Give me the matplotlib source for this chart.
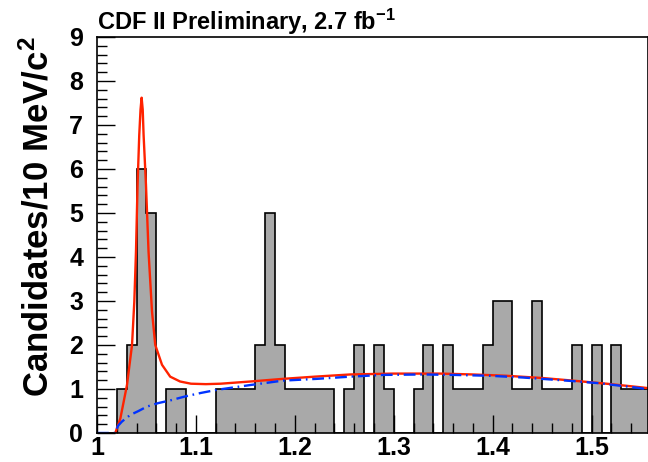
import matplotlib
matplotlib.use('Agg')
import matplotlib.pyplot as plt
import numpy as np
from matplotlib.ticker import MultipleLocator, FuncFormatter

# histogram: 10 MeV bins starting at 1.00 GeV
bin_low = 1.00
bin_width = 0.01
counts = [0, 0, 1, 2, 6, 5, 0, 1, 1, 0,
          0, 0, 1, 1, 1, 1, 2, 5, 2, 1,
          1, 1, 1, 1, 0, 1, 2, 0, 2, 1,
          0, 0, 1, 2, 0, 2, 1, 1, 1, 2,
          3, 3, 1, 1, 3, 1, 1, 1, 2, 0,
          2, 0, 2, 1, 1, 1]

# total fit (red)
fit_x = [1.0185, 1.0236, 1.0303, 1.0354, 1.0377, 1.0394, 1.041, 1.0427, 1.0440,
         1.0451, 1.0462, 1.0471, 1.0495, 1.0521, 1.0556, 1.0589, 1.0657, 1.074,
         1.084, 1.095, 1.11, 1.125, 1.155, 1.188, 1.22, 1.256, 1.30, 1.347,
         1.38, 1.414, 1.45, 1.481, 1.515, 1.549, 1.557]
fit_y = [0.0, 0.33, 1.09, 2.0, 2.98, 4.12, 5.64, 6.77, 7.35,
         7.62, 7.35, 6.77, 5.64, 4.12, 2.76, 2.0, 1.55, 1.28,
         1.17, 1.12, 1.11, 1.12, 1.17, 1.23, 1.28, 1.33, 1.35, 1.35,
         1.33, 1.30, 1.25, 1.19, 1.12, 1.04, 1.02]

# background (blue dash-dot)
bkg_x = [1.0, 1.0185, 1.020, 1.0215, 1.0252, 1.0336, 1.042, 1.0505, 1.062, 1.074,
         1.089, 1.105, 1.121, 1.155, 1.188, 1.222, 1.256, 1.29, 1.33, 1.36,
         1.397, 1.431, 1.475, 1.508, 1.549, 1.557]
bkg_y = [0.0, 0.0, 0.10, 0.17, 0.26, 0.41, 0.50, 0.60, 0.68, 0.74,
         0.83, 0.91, 0.98, 1.09, 1.19, 1.23, 1.28, 1.32, 1.33, 1.32,
         1.30, 1.26, 1.19, 1.13, 1.02, 0.99]

plt.rcParams['font.family'] = ['Liberation Sans', 'DejaVu Sans']
plt.rcParams['font.weight'] = 'bold'
plt.rcParams['mathtext.fontset'] = 'custom'
plt.rcParams['mathtext.rm'] = 'Liberation Sans:bold'
plt.rcParams['mathtext.bf'] = 'Liberation Sans:bold'
plt.rcParams['mathtext.it'] = 'Liberation Sans:bold'

fig = plt.figure(figsize=(6.48, 4.62), dpi=100)
ax = fig.add_axes([0.1497, 0.0628, 0.8503, 0.8572])

edges = np.round(bin_low + bin_width * np.arange(len(counts) + 1), 3)
ax.stairs(counts, edges, fill=True, facecolor='#a9a9a9', edgecolor='none')
ax.stairs(counts, edges, color='black', lw=1.2)

ax.plot(fit_x, fit_y, color='#ff2200', lw=1.7)
ax.plot(bkg_x, bkg_y, color='#0033ff', lw=1.7, linestyle=(0, (5, 2, 0.7, 2)))

ax.set_xlim(1.0, 1.557)
ax.set_ylim(0, 9)

ax.xaxis.set_major_locator(MultipleLocator(0.1))
ax.xaxis.set_minor_locator(MultipleLocator(0.02))
ax.yaxis.set_major_locator(MultipleLocator(1))
ax.yaxis.set_minor_locator(MultipleLocator(0.2))
ax.xaxis.set_major_formatter(FuncFormatter(lambda v, p: f'{v:g}'))
ax.tick_params(which='both', direction='in', labelsize=18, top=False, right=False)
ax.tick_params(which='major', length=13, width=1)
ax.tick_params(which='minor', length=7, width=1)
ax.tick_params(axis='x', pad=2.5)
ax.tick_params(axis='y', pad=10)
for s in ax.spines.values():
    s.set_linewidth(1.2)

fig.text(0.1497, 0.935, r'CDF II Preliminary, 2.7 fb$^{-1}$', fontsize=17,
         fontweight='bold', ha='left', va='baseline')
fig.text(0.058, 0.922, r'Candidates/10 MeV/c$^{2}$', fontsize=25, fontweight='bold',
         rotation=90, ha='center', va='top')

fig.savefig('out.png', dpi=100)
